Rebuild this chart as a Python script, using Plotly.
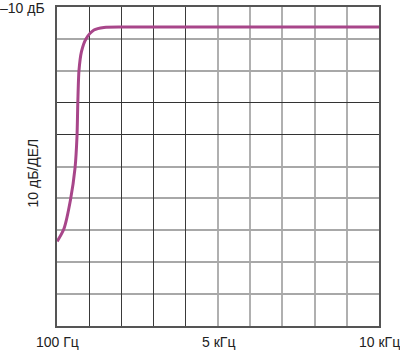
import plotly.graph_objects as go

# Curve data (frequency in Hz, level in dB)
freq_hz = [105, 310, 515, 654, 715, 740, 776, 852, 990, 1236, 1543, 2500, 5000, 7500, 10000]
level_db = [-83.5, -79.6, -70.4, -60.5, -50.5, -39.9, -29.9, -24.0, -20.0, -17.2, -16.4, -16.3, -16.3, -16.3, -16.3]

# Grid positions
x_light = [5050, 6040, 7030, 8020, 9010]
x_dark = [1090, 2080, 3070, 4060]
y_light = [-20, -30, -60, -70, -80, -90, -100]
y_dark = [-40, -50]

x_labels = ["100 Гц", "5 кГц", "10 кГц"]
x_label_pos = [100, 5050, 10000]
y_top_label = "–10 дБ"
y_axis_title = "10 дБ/ДЕЛ"

FONT = "Liberation Sans Narrow, Arial Narrow, Liberation Sans, Arial, sans-serif"

fig = go.Figure()
fig.add_trace(go.Scatter(
    x=freq_hz, y=level_db, mode="lines",
    line=dict(color="#A8468A", width=3, shape="spline", smoothing=0.7),
    hoverinfo="skip", showlegend=False,
))
# invisible trace for the overlay axes carrying the darker grid
fig.add_trace(go.Scatter(x=[100], y=[-10], xaxis="x2", yaxis="y2", mode="markers",
                         marker=dict(opacity=0), showlegend=False, hoverinfo="skip"))

fig.update_layout(
    width=400, height=354,
    margin=dict(l=57, r=21, t=5, b=28),
    paper_bgcolor="white", plot_bgcolor="white",
    xaxis=dict(range=[100, 10000], tickvals=x_light, showticklabels=False, ticks="",
               showgrid=True, gridcolor="#b0b0b0", gridwidth=2, zeroline=False,
               showline=True, linecolor="#555", linewidth=2, mirror=True, fixedrange=True),
    yaxis=dict(range=[-110, -10], tickvals=y_light, showticklabels=False, ticks="",
               showgrid=True, gridcolor="#a8a8a8", gridwidth=2, zeroline=False,
               showline=True, linecolor="#555", linewidth=2, mirror=True, fixedrange=True),
    xaxis2=dict(range=[100, 10000], overlaying="x", tickvals=x_dark, showticklabels=False,
                ticks="", showgrid=True, gridcolor="#3a3a3a", gridwidth=1, zeroline=False,
                showline=False),
    yaxis2=dict(range=[-110, -10], overlaying="y", tickvals=y_dark, showticklabels=False,
                ticks="", showgrid=True, gridcolor="#333", gridwidth=1, zeroline=False,
                showline=False),
    font=dict(family=FONT, size=14, color="#222"),
)

anns = []
for lbl, pos in zip(x_labels, x_label_pos):
    anns.append(dict(x=pos, y=0, xref="x", yref="paper", text=lbl, showarrow=False,
                     yanchor="top", yshift=-6, xanchor="center",
                     font=dict(family=FONT, size=14, color="#222")))
anns.append(dict(x=0, y=1, xref="paper", yref="paper", text=y_top_label, showarrow=False,
                 xanchor="right", xshift=-10, yanchor="middle", yshift=-1,
                 font=dict(family=FONT, size=14, color="#222")))
anns.append(dict(x=0, y=0.5, xref="paper", yref="paper", text=y_axis_title, showarrow=False,
                 textangle=-90, xanchor="center", xshift=-25, yanchor="middle", yshift=-7,
                 font=dict(family=FONT, size=14, color="#222")))
fig.update_layout(annotations=anns)

fig.write_html("out.html")
